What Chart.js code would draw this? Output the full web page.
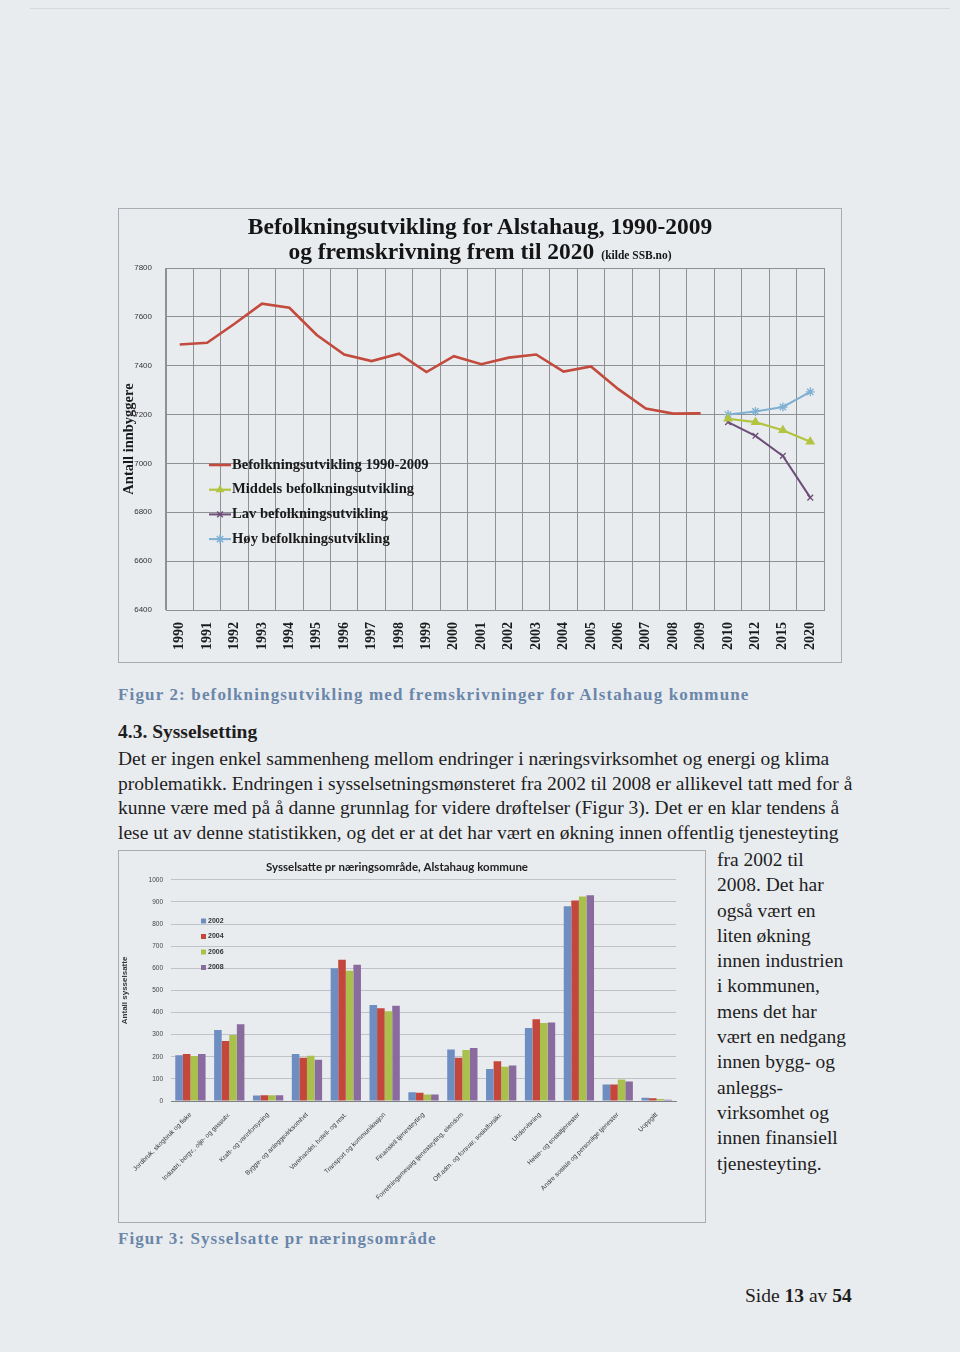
<!DOCTYPE html>
<html lang="no">
<head>
<meta charset="UTF-8">
<title>Befolkningsutvikling og sysselsatte, Alstahaug</title>
<style>
  html, body { margin: 0; padding: 0; }
  body {
    width: 960px; height: 1352px; position: relative; overflow: hidden;
    background: #e9ecef; font-family: "Liberation Serif", "DejaVu Serif", serif; color: #1e1e1e;
  }
  .abs { position: absolute; }
  .frame { border: 1px solid #a9adb1; box-sizing: border-box; }
  .title1 { left: 118px; width: 724px; top: 214px; text-align: center; font-weight: bold; font-size: 23.5px; line-height: 25px; color: #151515; }
  .title1 small { font-size: 11.5px; margin-left: 7px; }
  .cap { font-weight: bold; font-size: 17px; color: #6a86aa; white-space: nowrap; }
  .txt { font-size: 19.5px; line-height: 24.7px; white-space: nowrap; }
</style>
</head>
<body>
<div class="abs" style="left:30px;top:8px;width:920px;height:1px;background:#d6dadd"></div>

<!-- figur 2 -->
<div class="abs frame" style="left:118px;top:208px;width:724px;height:455px"></div>
<canvas id="Chart1" class="abs" style="left:118px;top:208px"></canvas>
<div class="abs title1">Befolkningsutvikling for Alstahaug, 1990-2009<br>og fremskrivning frem til 2020<small>(kilde SSB.no)</small></div>

<div class="abs cap" style="left:118px;top:685px;letter-spacing:1.15px">Figur 2: befolkningsutvikling med fremskrivninger for Alstahaug kommune</div>
<div class="abs txt" style="left:118px;top:720px;font-weight:bold">4.3. Sysselsetting</div>
<div class="abs txt" style="left:118px;top:747px">
Det er ingen enkel sammenheng mellom endringer i næringsvirksomhet og energi og klima<br>
problematikk. Endringen i sysselsetningsmønsteret fra 2002 til 2008 er allikevel tatt med for å<br>
kunne være med på å danne grunnlag for videre drøftelser (Figur 3). Det er en klar tendens å<br>
lese ut av denne statistikken, og det er at det har vært en økning innen offentlig tjenesteyting
</div>

<!-- figur 3 -->
<div class="abs frame" style="left:118px;top:850px;width:588px;height:373px"></div>
<canvas id="Chart2" class="abs" style="left:118px;top:850px"></canvas>
<div class="abs txt" style="left:717px;top:847px;line-height:25.3px">
fra 2002 til<br>2008. Det har<br>også vært en<br>liten økning<br>innen industrien<br>i kommunen,<br>mens det har<br>vært en nedgang<br>innen bygg- og<br>anleggs-<br>virksomhet og<br>innen finansiell<br>tjenesteyting.
</div>
<div class="abs cap" style="left:118px;top:1229px;letter-spacing:1.05px">Figur 3: Sysselsatte pr næringsområde</div>
<div class="abs txt" style="left:745px;top:1284px">Side <b>13</b> av <b>54</b></div>

<script src="https://cdn.jsdelivr.net/npm/chart.js"></script>
<script>
    // ---- figur 2 : befolkning ----
    const years = ['1990','1991','1992','1993','1994','1995','1996','1997','1998','1999',
                   '2000','2001','2002','2003','2004','2005','2006','2007','2008','2009',
                   '2010','2012','2015','2020'];
    const befolkning = [7487, 7494, 7572, 7654, 7637, 7526, 7446, 7419, 7449, 7374,
                        7439, 7406, 7433, 7446, 7376, 7397, 7304, 7225, 7204, 7205];
    // fremskrivning for 2010, 2012, 2015, 2020
    const middels = [7183, 7169, 7136, 7089];
    const lav     = [7169, 7113, 7031, 6860];
    const hoy     = [7200, 7213, 7231, 7293];

    // ---- figur 3 : sysselsatte ----
    const naeringer = ['Jordbruk, skogbruk og fiske', 'Industri, bergv., olje- og gassutv.',
        'Kraft- og vannforsyning', 'Bygge- og anleggsvirksomhet', 'Varehandel, hotell- og rest.',
        'Transport og kommunikasjon', 'Finansiell tjenesteyting',
        'Forretningsmessig tjenesteyting, eiendom', 'Off.adm. og forsvar, sosialforsikr.',
        'Undervisning', 'Helse- og sosialtjenester', 'Andre sosiale og personlige tjenester', 'Uoppgitt'];
    const s2002 = [207, 321, 25, 213, 600, 434, 40, 233, 145, 330, 880, 75, 15];
    const s2004 = [212, 271, 26, 195, 639, 419, 37, 196, 180, 370, 906, 75, 12];
    const s2006 = [204, 298, 26, 205, 589, 406, 29, 230, 155, 353, 924, 97, 9];
    const s2008 = [213, 347, 26, 187, 616, 431, 29, 240, 160, 355, 930, 88, 6];

    const pad = (arr, before, after) =>
        Array(before).fill(null).concat(arr, Array(after).fill(null));

    // legend drawn inside the plot, like the excel one
    const innerLegend = {
        id: 'innerLegend',
        afterDraw(chart, args, o) {
            const ctx = chart.ctx;
            ctx.save();
            ctx.font = o.font;
            ctx.textBaseline = 'middle';
            chart.data.datasets.forEach((ds, i) => {
                const y = o.y + i * o.rowH;
                ctx.strokeStyle = ds.borderColor;
                ctx.fillStyle = ds.backgroundColor;
                if (o.kind === 'line') {
                    ctx.lineWidth = ds.borderWidth;
                    ctx.beginPath();
                    ctx.moveTo(o.x, y);
                    ctx.lineTo(o.x + o.sample, y);
                    ctx.stroke();
                    if (ds.pointStyle && ds.pointRadius > 0) {
                        ctx.lineWidth = 1.5;
                        Chart.helpers.drawPoint(ctx, {pointStyle: ds.pointStyle, radius: ds.pointRadius, rotation: 0, borderWidth: 1.5}, o.x + o.sample / 2, y);
                    }
                } else {
                    ctx.fillRect(o.x, y - o.sample / 2, o.sample, o.sample);
                }
                ctx.fillStyle = o.color;
                ctx.fillText(ds.label, o.x + o.sample + o.gap, y);
            });
            ctx.restore();
        }
    };

    const plain = v => String(v);

    const ctx1 = document.getElementById('Chart1');
    ctx1.width = 724; ctx1.height = 454;
    const chart = new Chart(ctx1, {
        type: 'line',
        data: {
            labels: years,
            datasets: [
                { label: 'Befolkningsutvikling 1990-2009', data: pad(befolkning, 0, 4),
                  borderColor: '#c24b3e', backgroundColor: '#c24b3e', borderWidth: 2.6, pointRadius: 0 },
                { label: 'Middels befolkningsutvikling', data: pad(middels, 20, 0),
                  borderColor: '#b3c440', backgroundColor: '#b3c440', borderWidth: 2.2,
                  pointStyle: 'triangle', pointRadius: 3.5 },
                { label: 'Lav befolkningsutvikling', data: pad(lav, 20, 0),
                  borderColor: '#6e4d79', backgroundColor: '#6e4d79', borderWidth: 2,
                  pointStyle: 'crossRot', pointRadius: 4, pointBorderWidth: 1.3 },
                { label: 'Høy befolkningsutvikling', data: pad(hoy, 20, 0),
                  borderColor: '#7fb0d2', backgroundColor: '#7fb0d2', borderWidth: 2,
                  pointStyle: 'star', pointRadius: 4.5, pointBorderWidth: 1.3 }
            ]
        },
        options: {
            responsive: false,
            animation: false,
            layout: { padding: { top: 60, right: 18, left: 0, bottom: 0 } },
            elements: { line: { tension: 0 } },
            scales: {
                x: {
                    offset: true,
                    grid: { offset: true, color: '#8e9194', drawTicks: false },
                    border: { color: '#8e9194' },
                    ticks: { autoSkip: false, minRotation: 90, maxRotation: 90, padding: 12,
                             color: '#1a1a1a', font: { family: 'Liberation Serif', weight: 'bold', size: 14 } },
                    afterFit(s) { s.height = 52; }
                },
                y: {
                    min: 6400, max: 7800,
                    grid: { color: '#8e9194', drawTicks: false },
                    border: { color: '#8e9194' },
                    ticks: { stepSize: 200, padding: 14, color: '#333', callback: plain,
                             font: { family: 'Liberation Sans', size: 8 } },
                    title: { display: true, text: 'Antall innbyggere', color: '#1a1a1a',
                             font: { family: 'Liberation Serif', weight: 'bold', size: 14.5 }, padding: { top: 3, bottom: 0 } },
                    afterFit(s) { s.width = 48; }
                }
            },
            plugins: {
                legend: { display: false },
                tooltip: { enabled: false },
                innerLegend: { kind: 'line', x: 91, y: 257, rowH: 24.7, sample: 22, gap: 1,
                               color: '#1a1a1a', font: 'bold 14.6px "Liberation Serif"' }
            }
        },
        plugins: [innerLegend]
    });

    const ctx2 = document.getElementById('Chart2');
    ctx2.width = 588; ctx2.height = 372;
    const chart2 = new Chart(ctx2, {
        type: 'bar',
        data: {
            labels: naeringer,
            datasets: [
                { label: '2002', data: s2002, backgroundColor: '#6e8ec2', borderColor: '#6e8ec2' },
                { label: '2004', data: s2004, backgroundColor: '#c4473c', borderColor: '#c4473c' },
                { label: '2006', data: s2006, backgroundColor: '#a9c04c', borderColor: '#a9c04c' },
                { label: '2008', data: s2008, backgroundColor: '#8a6ba0', borderColor: '#8a6ba0' }
            ]
        },
        options: {
            responsive: false,
            animation: false,
            layout: { padding: { top: 0, right: 30, left: 0, bottom: 0 } },
            datasets: { bar: { categoryPercentage: 0.78, barPercentage: 1.0 } },
            scales: {
                x: {
                    grid: { display: false },
                    border: { color: '#7c8084' },
                    ticks: { autoSkip: false, minRotation: 45, maxRotation: 45, padding: 2,
                             color: '#333', font: { family: 'Liberation Sans', size: 6.5 } },
                    afterFit(s) { s.height = 121; }
                },
                y: {
                    min: 0, max: 1000,
                    grid: { color: '#bfc3c7', drawTicks: false },
                    border: { display: false },
                    ticks: { stepSize: 100, padding: 8, color: '#444', callback: plain,
                             font: { family: 'Liberation Sans', size: 6.5 } },
                    title: { display: true, text: 'Antall sysselsatte', color: '#333',
                             font: { family: 'Liberation Sans', weight: 'bold', size: 8 }, padding: { top: 2, bottom: 0 } },
                    afterFit(s) { s.width = 53; }
                }
            },
            plugins: {
                legend: { display: false },
                tooltip: { enabled: false },
                title: { display: true, text: 'Sysselsatte pr næringsområde, Alstahaug kommune',
                         color: '#222', font: { family: 'Lato', weight: 'bold', size: 11.5 },
                         padding: { top: 10, bottom: 6 } },
                innerLegend: { kind: 'box', x: 83, y: 71, rowH: 15.5, sample: 5, gap: 2,
                               color: '#333', font: 'bold 7px "Liberation Sans"' }
            }
        },
        plugins: [innerLegend]
    });
</script>
</body>
</html>
